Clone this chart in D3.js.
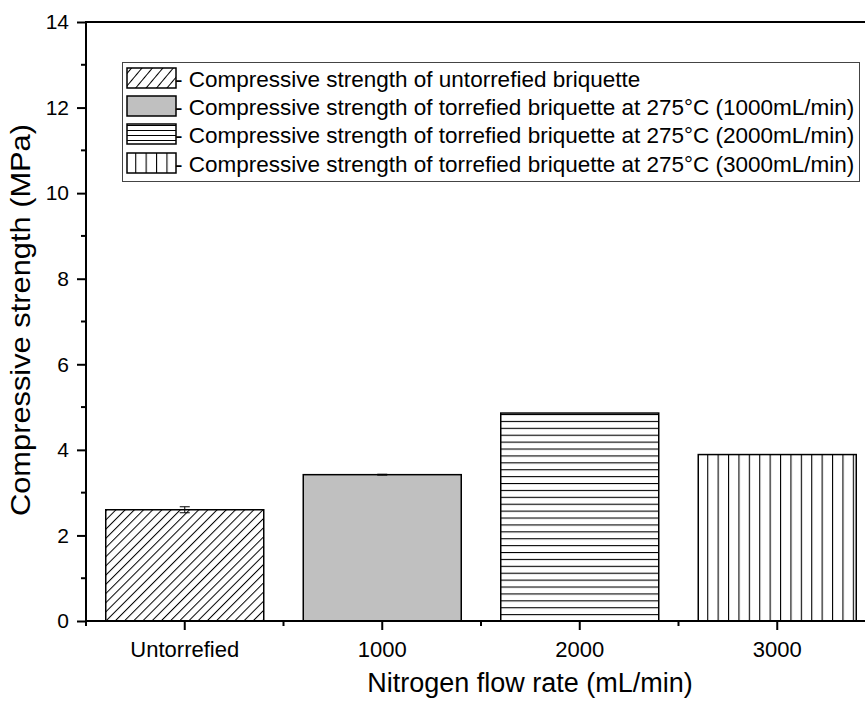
<!DOCTYPE html>
<html><head><meta charset="utf-8">
<script src="https://cdn.jsdelivr.net/npm/d3@7"></script>
<style>body{margin:0;background:#fff}svg{display:block}text{font-family:"Liberation Sans",Arial,sans-serif;fill:#000}</style>
</head><body>
<svg id="c" width="865" height="701"></svg>
<script>
const categories = ["Untorrefied","1000","2000","3000"];
const values = [2.60, 3.42, 4.86, 3.89];
const errors = [0.07, 0.01, 0, 0];
const patterns = ["diag","gray","horiz","vert"];
const yTicks = [0,2,4,6,8,10,12,14];
const legendLabels = [
  "- Compressive strength of untorrefied briquette",
  "- Compressive strength of torrefied briquette at 275\u00B0C (1000mL/min)",
  "- Compressive strength of torrefied briquette at 275\u00B0C (2000mL/min)",
  "- Compressive strength of torrefied briquette at 275\u00B0C (3000mL/min)"
];

const svg = d3.select("#c");
const L = 86, R = 876, T = 22, B = 621;
const x = d3.scaleBand().domain(categories).range([L, R]).paddingInner(0.2).paddingOuter(0.1);
const y = d3.scaleLinear().domain([0,14]).range([B, T]);

const defs = svg.append("defs");
function pat(id, w, h, draw, rot) {
  const p = defs.append("pattern").attr("id", id).attr("patternUnits","userSpaceOnUse")
    .attr("width", w).attr("height", h);
  if (rot) p.attr("patternTransform", rot);
  p.append("rect").attr("width", w).attr("height", h).attr("fill","#fff");
  draw(p);
}
pat("diag", 6.5, 10, p => p.append("line").attr("x1",0.5).attr("y1",0).attr("x2",0.5).attr("y2",10).attr("stroke","#000").attr("stroke-width",1), "rotate(45)");
pat("diagL", 8, 10, p => p.append("line").attr("x1",0.5).attr("y1",0).attr("x2",0.5).attr("y2",10).attr("stroke","#000").attr("stroke-width",1), "rotate(40)");
pat("horiz", 10, 6.9, p => p.append("line").attr("x1",0).attr("y1",0.5).attr("x2",10).attr("y2",0.5).attr("stroke","#000").attr("stroke-width",1.2));
pat("horizL", 10, 5, p => p.append("line").attr("x1",0).attr("y1",0.5).attr("x2",10).attr("y2",0.5).attr("stroke","#000").attr("stroke-width",1));
pat("vert", 10.4, 10, p => p.append("line").attr("x1",0.5).attr("y1",0).attr("x2",0.5).attr("y2",10).attr("stroke","#000").attr("stroke-width",1.2));
const fillOf = k => k === "gray" ? "#c0c0c0" : `url(#${k})`;
const legendFill = { diag: "diagL", gray: "gray", horiz: "horizL", vert: "vert" };

// bars
const g = svg.append("g");
g.selectAll("rect.bar").data(categories).join("rect").attr("class","bar")
  .attr("x", d => x(d)).attr("width", x.bandwidth())
  .attr("y", (d,i) => y(values[i])).attr("height", (d,i) => y(0) - y(values[i]))
  .attr("fill", (d,i) => fillOf(patterns[i]))
  .attr("stroke","#000").attr("stroke-width",1.5);

// error bars
categories.forEach((c,i) => {
  if (!errors[i]) return;
  const cx = x(c) + x.bandwidth()/2;
  const eg = g.append("g").attr("stroke","#000").attr("stroke-width",1);
  eg.append("line").attr("x1",cx).attr("x2",cx).attr("y1",y(values[i]+errors[i])).attr("y2",y(values[i]-errors[i]));
  eg.append("line").attr("x1",cx-5).attr("x2",cx+5).attr("y1",y(values[i]+errors[i])).attr("y2",y(values[i]+errors[i]));
  eg.append("line").attr("x1",cx-5).attr("x2",cx+5).attr("y1",y(values[i]-errors[i])).attr("y2",y(values[i]-errors[i]));
});

// y axis
const yAxis = d3.axisLeft(y).tickValues(yTicks).tickSize(9).tickPadding(8).tickFormat(d3.format("d"));
const ya = svg.append("g").attr("transform",`translate(${L},0)`).call(yAxis);
ya.select(".domain").remove();
ya.selectAll("line").attr("stroke-width",2);
ya.selectAll("text").attr("font-size",21);
const yMinor = d3.range(1,14,2);
svg.append("g").selectAll("line").data(yMinor).join("line")
  .attr("x1",L-5).attr("x2",L).attr("y1",d=>y(d)).attr("y2",d=>y(d)).attr("stroke","#000").attr("stroke-width",2);

// x axis
const xAxis = d3.axisBottom(x).tickSize(9).tickPadding(11);
const xa = svg.append("g").attr("transform",`translate(0,${B})`).call(xAxis);
xa.select(".domain").remove();
xa.selectAll("line").attr("stroke-width",2);
xa.selectAll("text").attr("font-size",22);
const step = x.step();
const xMinor = d3.range(0, categories.length+1).map(i => L + i*step);
svg.append("g").selectAll("line").data(xMinor).join("line")
  .attr("x1",d=>d).attr("x2",d=>d).attr("y1",B).attr("y2",B+5).attr("stroke","#000").attr("stroke-width",2);

// frame lines
svg.append("line").attr("x1",L).attr("x2",R).attr("y1",B).attr("y2",B).attr("stroke","#000").attr("stroke-width",2);
svg.append("line").attr("x1",L).attr("x2",R).attr("y1",T).attr("y2",T).attr("stroke","#000").attr("stroke-width",2);
svg.append("line").attr("x1",L).attr("x2",L).attr("y1",T-1).attr("y2",B+1).attr("stroke","#000").attr("stroke-width",2);

// axis titles
svg.append("text").attr("x",530).attr("y",692).attr("text-anchor","middle").attr("font-size",27).text("Nitrogen flow rate (mL/min)");
svg.append("text").attr("transform","translate(30,320) rotate(-90)").attr("text-anchor","middle").attr("font-size",28)
  .attr("textLength",392).attr("lengthAdjust","spacingAndGlyphs").text("Compressive strength (MPa)");

// legend
const lg = svg.append("g");
lg.append("rect").attr("x",122.5).attr("y",62.5).attr("width",737).attr("height",119).attr("fill","#fff").attr("stroke","#444").attr("stroke-width",1);
const rowY = [78, 106, 134, 163];
legendLabels.forEach((t,i) => {
  lg.append("rect").attr("x",127).attr("y",rowY[i]-10).attr("width",49).attr("height",20)
    .attr("fill",fillOf(legendFill[patterns[i]])).attr("stroke","#000").attr("stroke-width",1.5);
  lg.append("text").attr("x",175).attr("y",rowY[i]+9).attr("font-size",22.5).text(t);
});
</script>
</body></html>
